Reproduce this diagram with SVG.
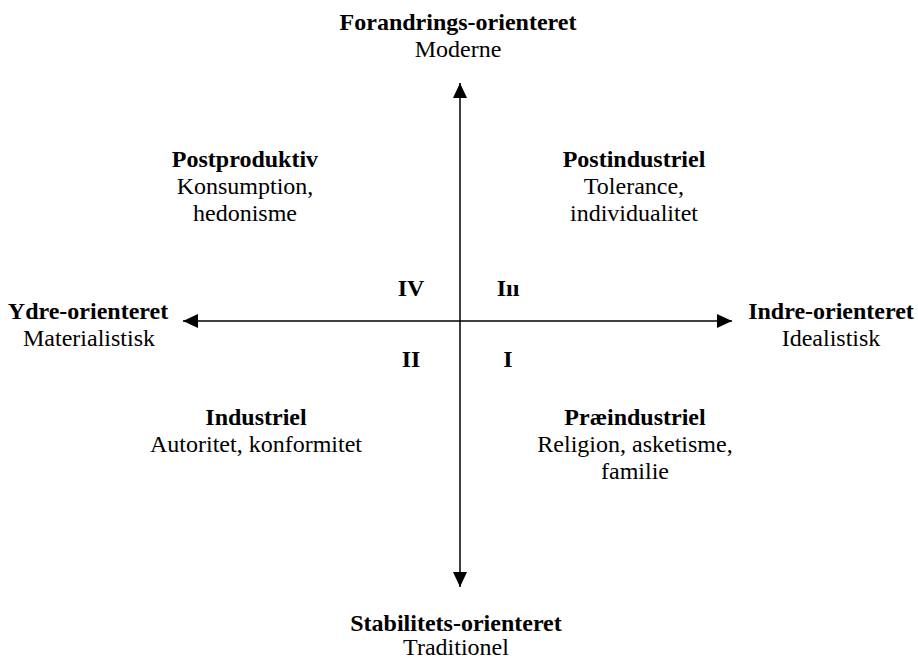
<svg xmlns="http://www.w3.org/2000/svg" width="918" height="660" viewBox="0 0 918 660">
<style>
text{font-family:"Liberation Serif","Times New Roman",serif;font-size:24px;fill:#000;text-anchor:middle}
.b{font-weight:bold}
.ax{stroke:#000;stroke-width:1.5;fill:none}
</style>
<defs>
<marker id="ah" viewBox="0 0 15 14" refX="15" refY="7" markerWidth="15" markerHeight="14" markerUnits="userSpaceOnUse" orient="auto">
<path d="M0,0 L15,7 L0,14 Z" fill="#000"/>
</marker>
</defs>
<rect width="918" height="660" fill="#fff"/>
<g id="connectors">
<line class="ax" x1="460" y1="321" x2="460" y2="83" marker-end="url(#ah)"/>
<line class="ax" x1="460" y1="321" x2="460" y2="587" marker-end="url(#ah)"/>
<line class="ax" x1="460" y1="321" x2="183" y2="321" marker-end="url(#ah)"/>
<line class="ax" x1="460" y1="321" x2="732" y2="321" marker-end="url(#ah)"/>
</g>
<g id="top"><text class="b" x="458" y="30">Forandrings-orienteret</text><text x="458" y="57">Moderne</text></g>
<g id="postproduktiv"><text class="b" x="245" y="167">Postproduktiv</text><text x="245" y="194">Konsumption,</text><text x="245" y="221">hedonisme</text></g>
<g id="postindustriel"><text class="b" x="634" y="167">Postindustriel</text><text x="634" y="194">Tolerance,</text><text x="634" y="221">individualitet</text></g>
<g id="q4"><text class="b" x="411" y="296">IV</text></g>
<g id="q3"><text class="b" x="508" y="296">Iıı</text></g>
<g id="left"><text class="b" x="88" y="319">Ydre-orienteret</text><text x="89" y="346">Materialistisk</text></g>
<g id="right"><text class="b" x="831" y="319">Indre-orienteret</text><text x="831" y="346">Idealistisk</text></g>
<g id="q2"><text class="b" x="411" y="367">II</text></g>
<g id="q1"><text class="b" x="508" y="367">I</text></g>
<g id="industriel"><text class="b" x="256" y="425">Industriel</text><text x="256" y="452">Autoritet, konformitet</text></g>
<g id="praeindustriel"><text class="b" x="635" y="425">Præindustriel</text><text x="635" y="452">Religion, asketisme,</text><text x="635" y="479">familie</text></g>
<g id="bottom"><text class="b" x="456" y="631">Stabilitets-orienteret</text><text x="456" y="655">Traditionel</text></g>
</svg>
